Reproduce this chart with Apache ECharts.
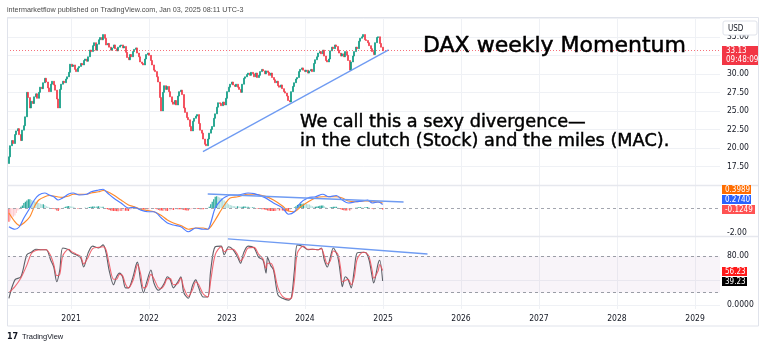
<!DOCTYPE html>
<html><head><meta charset="utf-8">
<script src="https://cdn.jsdelivr.net/npm/echarts@6/dist/echarts.min.js"></script>
<style>html,body{margin:0;padding:0;background:#fff}#c{width:768px;height:349px}</style>
</head><body><div id="c"></div>
<script>
// ---- data (weekly, index 0 = week of 2020-03-16) ----
const firstOpen = 17.9;
const closes = [
18.8,20.3,21.0,20.6,21.8,22.3,22.6,21.8,21.0,22.4,
23.0,24.2,27.5,26.8,25.4,26.3,26.0,26.9,27.3,26.7,
27.5,28.2,28.0,28.8,29.4,28.9,28.1,27.6,28.6,29.0,
28.5,27.8,26.6,25.4,27.9,28.6,29.0,28.8,29.3,29.6,
30.2,31.3,31.0,31.2,30.6,30.3,30.8,31.0,31.4,31.2,
31.8,32.0,31.7,32.3,33.2,33.0,33.8,34.2,33.2,34.0,
34.6,34.9,34.6,35.3,34.8,33.9,34.1,33.6,33.2,33.5,
33.9,33.4,33.1,33.6,33.8,33.9,33.5,33.7,32.9,32.2,
31.9,32.6,32.3,33.0,33.3,33.5,32.8,32.3,31.6,31.4,
31.2,32.0,32.6,32.8,32.5,31.8,31.2,30.5,30.3,29.6,
28.9,26.8,25.0,27.5,28.4,27.9,28.3,27.6,26.9,26.2,
25.9,26.4,25.8,27.0,27.6,27.8,27.2,25.4,24.8,24.1,
23.8,22.9,22.3,23.6,24.0,24.3,24.5,23.3,22.4,22.0,
21.2,20.5,20.3,21.2,22.0,22.5,22.9,24.0,24.6,25.5,
26.1,26.0,25.7,26.2,25.8,26.7,27.6,28.2,28.6,28.9,
28.5,28.3,28.6,28.2,27.9,27.5,28.6,29.4,29.6,29.9,
30.1,29.8,30.2,30.0,29.6,30.1,29.5,29.8,30.3,30.6,
30.4,30.0,30.4,30.2,29.8,30.1,29.5,29.2,28.8,29.0,
28.4,28.2,28.5,28.0,27.6,27.4,27.0,26.4,26.2,27.6,
28.3,28.8,29.3,29.5,30.3,30.6,30.8,30.5,30.3,30.5,
30.1,30.4,30.6,30.3,31.4,31.9,32.3,32.8,33.0,32.7,
33.2,32.4,31.8,31.6,32.0,33.1,33.6,33.4,33.9,33.7,
33.2,32.8,32.4,32.7,32.3,33.0,32.5,31.8,30.5,31.6,
32.4,33.0,33.6,33.4,34.4,34.8,35.0,35.3,34.6,34.5,
34.2,33.8,33.4,33.0,32.6,34.2,34.9,35.0,34.1,33.6,33.13];

const macdLine = [[0,-1.5],[4,-1.7],[7,-1.5],[10,-0.8],[14,0.0],[17,0.64],[20,1.04],[24,1.2],[27,1.04],[30,0.9],[33,0.64],[36,0.8],[40,1.12],[43,1.2],[47,1.04],[52,1.1],[55,1.3],[60,1.44],[63,1.5],[66,1.2],[70,0.8],[75,0.4],[80,0.0],[84,0.05],[88,-0.16],[93,-0.3],[97,-0.3],[102,-0.8],[106,-1.2],[110,-1.36],[115,-1.5],[120,-1.9],[125,-1.6],[130,-1.7],[133,-1.7],[135,-1.2],[138,0.0],[142,0.64],[145,0.9],[148,1.04],[153,1.04],[160,1.2],[164,1.15],[171,0.85],[177,0.4],[183,0.0],[187,-0.5],[191,-0.3],[195,0.4],[200,0.8],[205,0.9],[210,1.1],[214,0.9],[219,1.0],[223,0.64],[227,0.4],[232,0.5],[237,0.56],[240,0.64],[243,0.4],[247,0.48],[250,0.274]];
const signalLine = [[0,-0.4],[4,-1.1],[7,-1.4],[10,-1.2],[14,-0.7],[17,0.1],[20,0.64],[24,0.9],[27,1.0],[30,0.96],[33,0.88],[36,0.85],[40,0.96],[43,1.1],[47,1.1],[52,1.1],[55,1.2],[60,1.3],[63,1.4],[66,1.3],[70,1.04],[75,0.64],[80,0.24],[84,0.1],[88,-0.1],[93,-0.2],[97,-0.3],[102,-0.6],[106,-0.96],[110,-1.2],[115,-1.4],[120,-1.7],[125,-1.6],[130,-1.6],[133,-1.7],[135,-1.5],[138,-0.96],[142,-0.16],[145,0.4],[148,0.8],[153,0.9],[160,1.1],[164,1.1],[171,0.95],[177,0.64],[183,0.16],[187,-0.24],[191,-0.3],[195,0.08],[200,0.48],[205,0.8],[210,0.9],[214,0.9],[219,0.9],[223,0.8],[227,0.56],[232,0.5],[237,0.56],[240,0.56],[243,0.5],[247,0.48],[250,0.399]];
const histVals = [
-1.1,-1.0,-0.8,-0.7,-0.6,-0.4,-0.2,-0.1,0.1,0.2,
0.4,0.5,0.6,0.7,0.7,0.65,0.6,0.55,0.5,0.45,
0.4,0.35,0.3,0.3,0.25,0.15,0.1,0.05,0.0,-0.05,
-0.06,-0.1,-0.2,-0.24,-0.15,-0.05,-0.05,0.05,0.1,0.15,
0.16,0.15,0.12,0.1,0.05,0.0,-0.04,-0.06,-0.05,-0.02,
0.0,0.02,0.0,0.05,0.08,0.1,0.12,0.12,0.1,0.12,
0.14,0.12,0.1,0.1,0.0,-0.06,-0.1,-0.15,-0.2,-0.22,
-0.24,-0.24,-0.25,-0.25,-0.24,-0.24,-0.23,-0.22,-0.22,-0.22,
-0.24,-0.15,-0.1,-0.05,-0.05,-0.05,-0.06,-0.06,-0.06,-0.08,
-0.1,-0.1,-0.08,-0.1,-0.05,-0.02,0.0,0.0,-0.05,-0.1,
-0.15,-0.2,-0.2,-0.22,-0.2,-0.22,-0.24,-0.2,-0.18,-0.16,
-0.16,-0.12,-0.1,-0.1,-0.1,-0.1,-0.12,-0.15,-0.18,-0.2,
-0.2,-0.15,-0.1,-0.05,-0.02,0.0,-0.05,-0.08,-0.1,-0.1,
-0.1,-0.06,-0.03,0.0,0.1,0.3,0.5,0.7,0.9,0.95,
0.9,0.85,0.8,0.7,0.6,0.5,0.4,0.3,0.24,0.2,
0.16,0.14,0.12,0.14,0.12,0.1,0.1,0.12,0.12,0.1,
0.1,0.08,0.05,0.05,0.05,0.0,-0.04,-0.06,-0.08,-0.1,
-0.1,-0.12,-0.15,-0.2,-0.22,-0.24,-0.24,-0.24,-0.24,-0.22,
-0.2,-0.2,-0.18,-0.2,-0.22,-0.25,-0.26,-0.26,-0.2,-0.05,
0.0,0.05,0.15,0.25,0.3,0.32,0.35,0.35,0.34,0.32,
0.3,0.28,0.2,0.15,0.1,0.1,0.12,0.15,0.18,0.2,
0.2,0.15,0.08,0.0,0.0,0.05,0.08,0.1,0.1,0.1,
0.05,-0.05,-0.1,-0.16,-0.18,-0.2,-0.2,-0.16,-0.2,-0.14,
-0.06,0.0,0.02,0.05,0.06,0.08,0.06,0.02,0.04,0.06,
0.08,0.04,0.0,-0.06,-0.1,-0.06,0.0,0.02,-0.02,-0.08,-0.1249];

const stochK = [[0,11],[4,41],[8,46],[12,82],[15,86],[18,91],[22,90],[25,90],[28,73],[30,62],[32,38],[34,57],[36,93],[40,90],[42,85],[45,82],[48,77],[50,62],[53,85],[56,96],[60,93],[63,98],[65,85],[67,57],[70,33],[72,46],[74,52],[76,46],[78,28],[80,28],[83,46],[85,65],[86,70],[88,41],[90,20],[92,36],[95,57],[97,36],[100,24],[102,28],[104,36],[106,46],[108,41],[110,28],[113,38],[115,46],[117,20],[120,11],[123,33],[125,41],[127,28],[130,13],[133,13],[135,57],[138,95],[142,96],[144,82],[147,95],[150,90],[153,78],[155,68],[157,85],[160,96],[164,93],[167,78],[170,73],[172,52],[173,78],[175,65],[177,57],[180,16],[183,11],[187,8],[189,13],[191,57],[193,98],[197,95],[200,90],[203,91],[207,90],[209,93],[211,73],[213,62],[215,78],[217,93],[220,78],[222,46],[223,30],[225,46],[227,41],[229,28],[231,57],[233,85],[237,86],[239,85],[241,73],[243,46],[244,36],[247,68],[248,73],[250,39.23]];
const stochD = [[0,20],[4,30],[8,44],[12,65],[15,84],[18,89],[22,90],[25,90],[28,80],[30,66],[32,48],[34,50],[36,80],[40,91],[42,87],[45,83],[48,79],[50,67],[53,78],[56,92],[60,94],[63,95],[65,90],[67,68],[70,42],[72,42],[74,50],[76,48],[78,34],[80,28],[83,40],[85,58],[86,66],[88,52],[90,28],[92,30],[95,50],[97,43],[100,28],[102,27],[104,33],[106,43],[108,43],[110,33],[113,35],[115,44],[117,28],[120,14],[123,26],[125,38],[127,33],[130,18],[133,13],[135,40],[138,82],[142,95],[144,87],[147,91],[150,91],[153,82],[155,72],[157,78],[160,93],[164,94],[167,83],[170,75],[172,60],[173,68],[175,68],[177,60],[180,28],[183,14],[187,10],[189,11],[191,40],[193,85],[197,96],[200,91],[203,91],[207,90],[209,92],[211,80],[213,67],[215,72],[217,88],[220,83],[222,58],[223,38],[225,40],[227,42],[229,33],[231,45],[233,75],[237,86],[239,85],[241,78],[243,56],[244,44],[247,56],[248,66],[250,56.23]];

// trend lines drawn on the chart: [week index, value]
const priceTrend = [[129.8,19.5],[254,33.23]];
const macdTrend = [[133,1.12],[264,0.48]];
const stochTrend = [[146.5,107.7],[280,83.2]];

const yearLabels = ['2021','2022','2023','2024','2025','2026','2027','2028','2029'];
const priceTicks = [17.5,20,22.5,25,27.5,30,35];
const macdTicks = [-2];
const stochTicks = [0,80];
const lastPrice = 33.13;

// ---- build ----
const DAY = 86400000;
const weekStart = Date.UTC(2020,2,16);
const wk = i => weekStart + i*7*DAY;
const xMin = Date.UTC(2020,2,7);
const xMax = xMin + 713/0.21355*DAY;
const yearTicks = yearLabels.map(y => Date.UTC(+y,0,1));
const pts = arr => arr.map(p => [wk(p[0]), p[1]]);

const candles = closes.map((c,i)=>{const o = i ? closes[i-1] : firstOpen; return [wk(i), o, c, Math.min(o,c), Math.max(o,c)];});

const NARROW = '"DejaVu Sans Condensed", Roboto, sans-serif';
const gridCol = '#eff1f5';
const lblFont = {fontFamily:NARROW, fontSize:8.5, color:'#131722'};
const mkX = (gi, showLabel) => ({
  type:'value', gridIndex:gi, min:xMin, max:xMax, scale:true,
  axisLine:{show:false}, axisTick:{show:false, customValues:yearTicks},
  splitLine:{show:true, lineStyle:{color:gridCol, width:1}},
  axisLabel: showLabel ? Object.assign({show:true, margin:5, customValues:yearTicks, formatter:v=>String(new Date(v).getUTCFullYear())}, lblFont) : {show:false}
});

const chart = echarts.init(document.getElementById('c'), null, {renderer:'canvas'});
const hColor = p => {
  const i = p.dataIndex, v = histVals[i], pv = i ? histVals[i-1] : v;
  if (v >= 0) return v >= pv ? '#26a69a' : '#b2dfdb';
  return v <= pv ? '#ff5252' : '#ffcdd2';
};
const box = (x, y, w, h, fill, text) => [
  {type:'rect', z:100, shape:{x:x, y:y, width:w, height:h}, style:{fill:fill}},
  {type:'text', z:101, x:x+3, y:y+h/2, style:{text:text, font:'8px ' + NARROW, fill:'#ffffff', verticalAlign:'middle'}}
];

const opt = {
  animation:false,
  backgroundColor:'#ffffff',
  grid:[
    {left:7, right:48, top:17, height:168},
    {left:7, right:48, top:186, height:50},
    {left:7, right:48, top:237, height:72}
  ],
  xAxis:[mkX(0,false), mkX(1,false), mkX(2,true)],
  yAxis:[
    {type:'value', gridIndex:0, position:'right', min:15, max:37.67, interval:2.5,
     axisLine:{show:false}, axisTick:{show:false},
     axisLabel:Object.assign({margin:7, customValues:priceTicks, formatter:v=>v.toFixed(2)}, lblFont),
     splitLine:{show:true, lineStyle:{color:gridCol}}},
    {type:'value', gridIndex:1, position:'right', min:-2.24, max:1.76,
     axisLine:{show:false}, axisTick:{show:false},
     axisLabel:Object.assign({margin:7, customValues:macdTicks, formatter:v=>v.toFixed(2)}, lblFont),
     splitLine:{show:false}},
    {type:'value', gridIndex:2, position:'right', min:-6.5, max:110.9,
     axisLine:{show:false}, axisTick:{show:false, customValues:[0,40]},
     axisLabel:Object.assign({margin:7, customValues:stochTicks, formatter:v=> v===0 ? '0.0000' : v.toFixed(2)}, lblFont),
     splitLine:{show:true, lineStyle:{color:gridCol}}}
  ],
  series:[
    {type:'candlestick', xAxisIndex:0, yAxisIndex:0, data:candles, encode:{x:0, y:[1,2,3,4]},
     barWidth:1.5,
     itemStyle:{color:'#089981', color0:'#f23645', borderColor:'#089981', borderColor0:'#f23645', borderWidth:0.7},
     markLine:{silent:true, symbol:'none', label:{show:false},
       lineStyle:{color:'#f23645', type:[1,2], width:1, opacity:0.7}, data:[{yAxis:lastPrice}]}},
    {type:'line', xAxisIndex:0, yAxisIndex:0, data:pts(priceTrend), symbol:'none',
     lineStyle:{color:'#6f9bf2', width:1.3}},
    {type:'bar', xAxisIndex:1, yAxisIndex:1, barWidth:1.2,
     data:histVals.map((v,i)=>[wk(i), v]), itemStyle:{color:hColor}},
    {type:'line', xAxisIndex:1, yAxisIndex:1, data:pts(signalLine), symbol:'none', smooth:0.3,
     lineStyle:{color:'#ff8a2b', width:1.2},
     markLine:{silent:true, symbol:'none', label:{show:false},
       lineStyle:{color:'#a3a6af', type:[3,3], width:1}, data:[{yAxis:0}]}},
    {type:'line', xAxisIndex:1, yAxisIndex:1, data:pts(macdLine), symbol:'none', smooth:0.3,
     lineStyle:{color:'#4f7dff', width:1.2}},
    {type:'line', xAxisIndex:1, yAxisIndex:1, data:pts(macdTrend), symbol:'none',
     lineStyle:{color:'#6f9bf2', width:1.3}},
    {type:'line', xAxisIndex:2, yAxisIndex:2, data:pts(stochK), symbol:'none', smooth:0.3,
     lineStyle:{color:'#5d6068', width:1.1},
     markArea:{silent:true, itemStyle:{color:'rgba(150,100,170,0.07)'}, data:[[{yAxis:20},{yAxis:80}]]},
     markLine:{silent:true, symbol:'none', label:{show:false},
       lineStyle:{color:'#9a9da6', type:[3,3], width:1}, data:[{yAxis:80},{yAxis:20}]}},
    {type:'line', xAxisIndex:2, yAxisIndex:2, data:pts(stochD), symbol:'none', smooth:0.3,
     lineStyle:{color:'#ef4f5a', width:1.1, opacity:0.85}},
    {type:'line', xAxisIndex:2, yAxisIndex:2, data:pts(stochTrend), symbol:'none',
     lineStyle:{color:'#6f9bf2', width:1.3}}
  ],
  graphic:[
    {type:'text', x:7, y:10, z:100, style:{text:'intermarketflow published on TradingView.com, Jan 03, 2025 08:11 UTC-3', font:'7.2px "Liberation Sans"', fill:'#4a4a4a', verticalAlign:'middle'}},
    {type:'rect', z:90, shape:{x:7.5, y:17.5, width:751, height:308.5}, style:{fill:'none', stroke:'#e0e3eb', lineWidth:1}},
    {type:'line', z:90, shape:{x1:7, y1:185.5, x2:758, y2:185.5}, style:{stroke:'#e6e8ee', lineWidth:1.5}},
    {type:'line', z:90, shape:{x1:7, y1:236.5, x2:758, y2:236.5}, style:{stroke:'#e6e8ee', lineWidth:1.5}},
    {type:'rect', z:100, shape:{x:723, y:21, width:34, height:14, r:2}, style:{fill:'#ffffff', stroke:'#e0e3eb', lineWidth:1}},
    {type:'text', z:101, x:728, y:28.5, style:{text:'USD', font:'8px ' + NARROW, fill:'#131722', verticalAlign:'middle'}},
    {type:'rect', z:100, shape:{x:722, y:46, width:36, height:19}, style:{fill:'#f23645'}},
    {type:'text', z:101, x:726, y:51, style:{text:'33.13', font:'8px ' + NARROW, fill:'#ffffff', verticalAlign:'middle'}},
    {type:'text', z:101, x:726, y:60, style:{text:'09:48:09', font:'8px ' + NARROW, fill:'#ffffff', verticalAlign:'middle'}}
  ].concat(
    box(722, 185, 29, 9, '#ff6d00', '0.3989'),
    box(722, 195, 29, 9, '#2962ff', '0.2740'),
    box(722, 205, 33, 9, '#ff5252', '-0.1249'),
    box(722, 267, 25, 9, '#ff1a1a', '56.23'),
    box(722, 277, 25, 9, '#000000', '39.23'),
    [
    {type:'text', z:100, x:423, y:46, style:{text:'DAX weekly Momentum', font:'22px "DejaVu Sans"', fill:'#000000', stroke:'#000000', lineWidth:0.5, verticalAlign:'middle'}},
    {type:'text', z:100, x:300, y:122.5, style:{text:'We call this a sexy divergence\u2014', font:'17.7px "DejaVu Sans"', fill:'#000000', stroke:'#000000', lineWidth:0.45, verticalAlign:'middle'}},
    {type:'text', z:100, x:300, y:141, style:{text:'in the clutch (Stock) and the miles (MAC).', font:'17.7px "DejaVu Sans"', fill:'#000000', stroke:'#000000', lineWidth:0.45, verticalAlign:'middle'}},
    {type:'text', z:100, x:7, y:337, style:{text:'17', font:'bold 8px "DejaVu Sans"', fill:'#131722', verticalAlign:'middle'}},
    {type:'text', z:100, x:22, y:337, style:{text:'TradingView', font:'7.5px "Liberation Sans"', fill:'#131722', verticalAlign:'middle'}}
  ])
};
chart.setOption(opt);
</script>
</body></html>
